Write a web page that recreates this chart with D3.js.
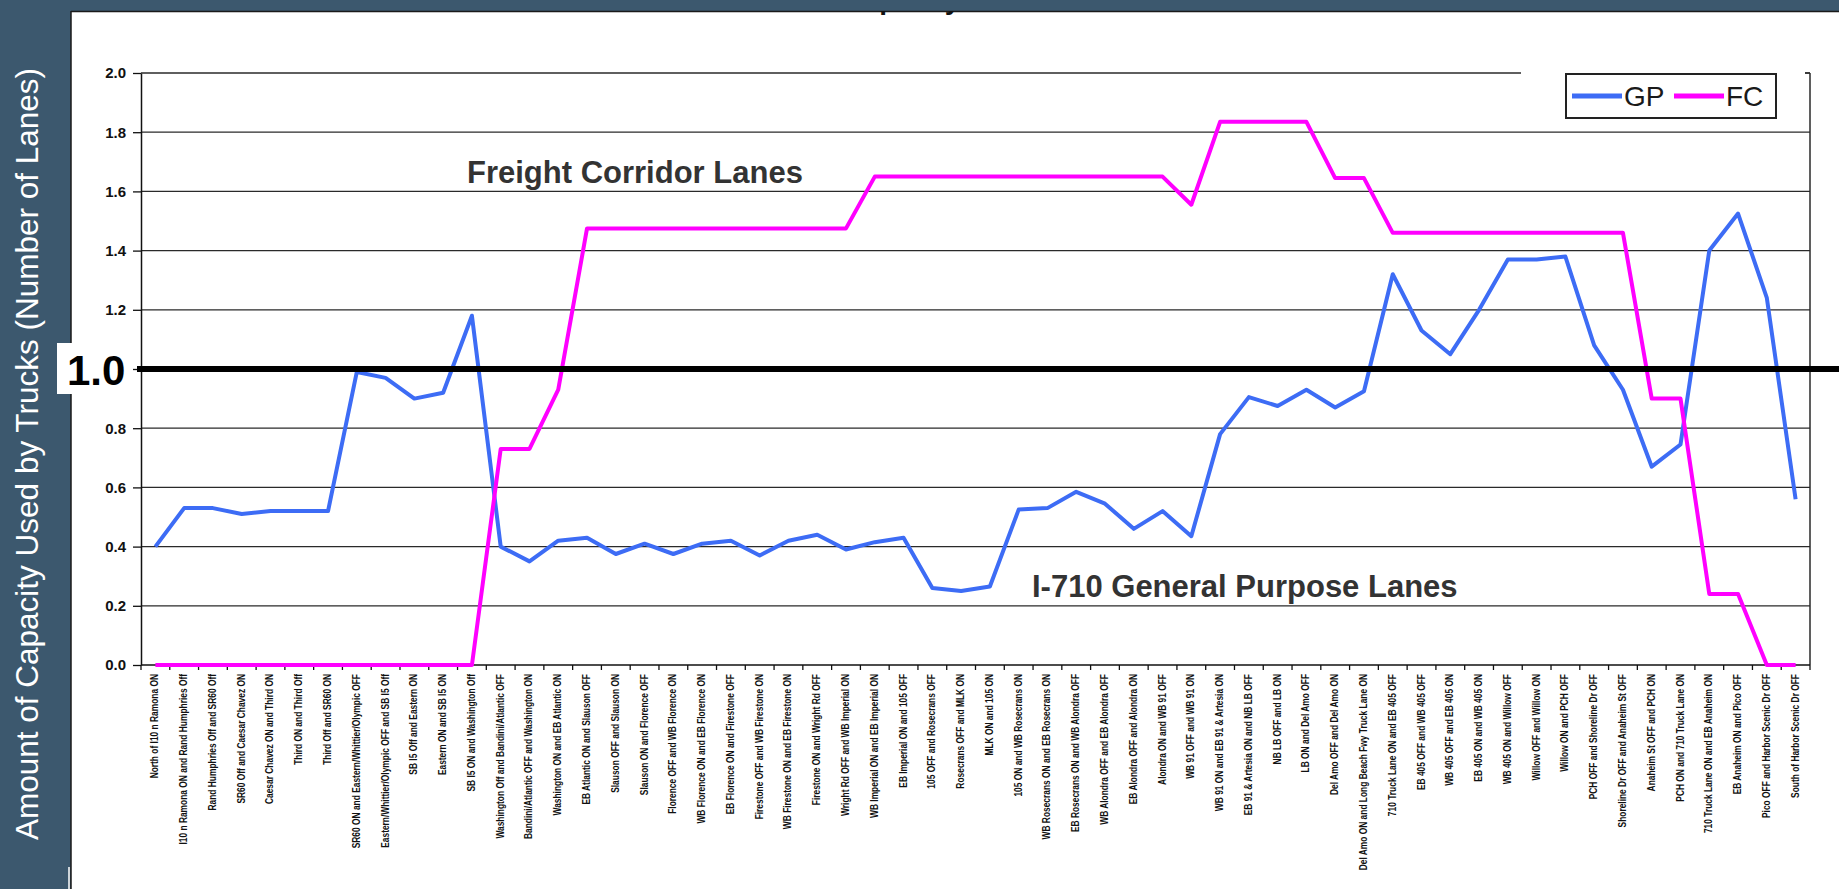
<!DOCTYPE html>
<html>
<head>
<meta charset="utf-8">
<script src="https://cdn.jsdelivr.net/npm/d3@7"></script>
<style>
  html, body { margin: 0; padding: 0; background: #3c586e; }
  svg { display: block; font-family: "Liberation Sans", Arial, sans-serif; }
</style>
</head>
<body>
<svg id="chart" width="1839" height="889"></svg>
<script>
// ---- Data ----
const categories = [
  "North of I10 n Ramona ON",
  "I10 n Ramona ON and Rand Humphries Off",
  "Rand Humphries Off and SR60 Off",
  "SR60 Off and Caesar Chavez ON",
  "Caesar Chavez ON and Third ON",
  "Third ON and Third Off",
  "Third Off and SR60 ON",
  "SR60 ON and Eastern/Whittier/Olympic OFF",
  "Eastern/Whittier/Olympic OFF and SB I5 Off",
  "SB I5 Off and Eastern ON",
  "Eastern ON and SB I5 ON",
  "SB I5 ON and Washington Off",
  "Washington Off and Bandini/Atlantic OFF",
  "Bandini/Atlantic OFF and Washington ON",
  "Washington ON and EB Atlantic ON",
  "EB Atlantic ON and Slauson OFF",
  "Slauson OFF and Slauson ON",
  "Slauson ON and Florence OFF",
  "Florence OFF and WB Florence ON",
  "WB Florence ON and EB Florence ON",
  "EB Florence ON and Firestone OFF",
  "Firestone OFF and WB Firestone ON",
  "WB Firestone ON and EB Firestone ON",
  "Firestone ON and Wright Rd OFF",
  "Wright Rd OFF and WB Imperial ON",
  "WB Imperial ON and EB Imperial ON",
  "EB Imperial ON and 105 OFF",
  "105 OFF and Rosecrans OFF",
  "Rosecrans OFF and MLK ON",
  "MLK ON and 105 ON",
  "105 ON and WB Rosecrans ON",
  "WB Rosecrans ON and EB Rosecrans ON",
  "EB Rosecrans ON and WB Alondra OFF",
  "WB Alondra OFF and EB Alondra OFF",
  "EB Alondra OFF and Alondra ON",
  "Alondra ON and WB 91 OFF",
  "WB 91 OFF and WB 91 ON",
  "WB 91 ON and EB 91 & Artesia ON",
  "EB 91 & Artesia ON and NB LB OFF",
  "NB LB OFF and LB ON",
  "LB ON and Del Amo OFF",
  "Del Amo OFF and Del Amo ON",
  "Del Amo ON and Long Beach Fwy Truck Lane ON",
  "710 Truck Lane ON and EB 405 OFF",
  "EB 405 OFF and WB 405 OFF",
  "WB 405 OFF and EB 405 ON",
  "EB 405 ON and WB 405 ON",
  "WB 405 ON and Willow OFF",
  "Willow OFF and Willow ON",
  "Willow ON and PCH OFF",
  "PCH OFF and Shoreline Dr OFF",
  "Shoreline Dr OFF and Anaheim St OFF",
  "Anaheim St OFF and PCH ON",
  "PCH ON and 710 Truck Lane ON",
  "710 Truck Lane ON and EB Anaheim ON",
  "EB Anaheim ON and Pico OFF",
  "Pico OFF and Harbor Scenic Dr OFF",
  "South of Harbor Scenic Dr OFF"
];

const gpValues = [
  0.40, 0.53, 0.53, 0.51, 0.52, 0.52, 0.52, 0.99, 0.97, 0.90,
  0.92, 1.18, 0.40, 0.35, 0.42, 0.43, 0.375, 0.41, 0.375, 0.41,
  0.42, 0.37, 0.42, 0.44, 0.39, 0.415, 0.43, 0.26, 0.25, 0.265,
  0.525, 0.53, 0.585, 0.545, 0.46, 0.52, 0.435, 0.78, 0.905, 0.875,
  0.93, 0.87, 0.925, 1.32, 1.13, 1.05, 1.20, 1.37, 1.37, 1.38,
  1.08, 0.93, 0.67, 0.745, 1.40, 1.525, 1.24, 0.56
];

const fcValues = [
  0, 0, 0, 0, 0, 0, 0, 0, 0, 0,
  0, 0, 0.73, 0.73, 0.93, 1.475, 1.475, 1.475, 1.475, 1.475,
  1.475, 1.475, 1.475, 1.475, 1.475, 1.65, 1.65, 1.65, 1.65, 1.65,
  1.65, 1.65, 1.65, 1.65, 1.65, 1.65, 1.555, 1.835, 1.835, 1.835,
  1.835, 1.645, 1.645, 1.46, 1.46, 1.46, 1.46, 1.46, 1.46, 1.46,
  1.46, 1.46, 0.90, 0.90, 0.24, 0.24, 0, 0
];

const yTicks = [0, 0.2, 0.4, 0.6, 0.8, 1.0, 1.2, 1.4, 1.6, 1.8, 2.0];
const seriesNames = ["GP", "FC"];
const seriesColors = ["#3d6cf5", "#ff00ff"];

// ---- Layout ----
const W = 1839, H = 889;
const plot = { left: 141, right: 1810, top: 73, bottom: 665 };

const svg = d3.select("#chart");

svg.append("rect").attr("width", W).attr("height", H).attr("fill", "#3c586e");

// white panel
svg.append("defs").append("clipPath").attr("id", "panelClip")
  .append("rect").attr("x", 71).attr("y", 11).attr("width", W - 71).attr("height", H - 11);
svg.append("rect").attr("x", 71).attr("y", 11).attr("width", W - 71).attr("height", H - 11).attr("fill", "#fff");
svg.append("line").attr("x1", 71).attr("x2", W).attr("y1", 11.5).attr("y2", 11.5).attr("stroke", "#1a1a1a").attr("stroke-width", 1.5);
svg.append("line").attr("x1", 71).attr("x2", 71).attr("y1", 11).attr("y2", H).attr("stroke", "#1a1a1a").attr("stroke-width", 1.5);
svg.append("line").attr("x1", 69).attr("x2", 69).attr("y1", 867).attr("y2", H).attr("stroke", "#fff").attr("stroke-width", 1.5);

// clipped title (only descenders show)
svg.append("text")
  .attr("clip-path", "url(#panelClip)")
  .attr("x", 761).attr("y", 9)
  .attr("font-size", 28).attr("font-weight", "bold").attr("fill", "#111")
  .text("Truck Capacity Used");

// y title
svg.append("text")
  .attr("transform", "translate(38,454) rotate(-90)")
  .attr("text-anchor", "middle")
  .attr("font-size", 31.5).attr("fill", "#fff")
  .text("Amount of Capacity Used by Trucks (Number of Lanes)");

// ---- Scales ----
const x = d3.scaleBand().domain(categories).range([plot.left, plot.right]);
const y = d3.scaleLinear().domain([0, 2]).range([plot.bottom, plot.top]);
const cx = (i) => x(categories[i]) + x.bandwidth() / 2;

// gridlines
svg.append("g").selectAll("line")
  .data(yTicks.filter((d) => d > 0))
  .join("line")
  .attr("x1", plot.left).attr("x2", plot.right)
  .attr("y1", (d) => y(d)).attr("y2", (d) => y(d))
  .attr("stroke", "#2a2a2a").attr("stroke-width", 1.3);

// right border
svg.append("line").attr("x1", plot.right).attr("x2", plot.right)
  .attr("y1", plot.top).attr("y2", plot.bottom)
  .attr("stroke", "#2a2a2a").attr("stroke-width", 1.5);

// y axis (the 1.0 label sits under the big 1.0 box, so it is left out)
const yAxis = svg.append("g")
  .attr("transform", `translate(${plot.left},0)`)
  .call(d3.axisLeft(y).tickValues(yTicks)
    .tickFormat((d) => (d === 1 ? "" : d3.format(".1f")(d)))
    .tickSize(8).tickSizeOuter(0));
yAxis.select(".domain").attr("stroke", "#111").attr("stroke-width", 1.5);
yAxis.selectAll(".tick line").attr("stroke", "#111").attr("stroke-width", 1.3);
yAxis.selectAll(".tick text")
  .attr("font-family", "'Liberation Sans', Arial, sans-serif")
  .attr("font-size", 15).attr("font-weight", "bold").attr("fill", "#111")
  .attr("x", -15);

// x axis line + ticks at band boundaries
svg.append("line").attr("x1", plot.left).attr("x2", plot.right)
  .attr("y1", plot.bottom).attr("y2", plot.bottom)
  .attr("stroke", "#111").attr("stroke-width", 1.5);
svg.append("g").selectAll("line")
  .data(categories.concat([null]))
  .join("line")
  .attr("x1", (d) => (d === null ? plot.right : x(d)))
  .attr("x2", (d) => (d === null ? plot.right : x(d)))
  .attr("y1", plot.bottom).attr("y2", plot.bottom + 5)
  .attr("stroke", "#111").attr("stroke-width", 1.3);

// x labels (condensed look)
svg.append("g").selectAll("text")
  .data(categories)
  .join("text")
  .attr("transform", (d, i) => `translate(${cx(i) + 3},674) rotate(-90) scale(0.84,1)`)
  .attr("text-anchor", "end")
  .attr("font-size", 10).attr("font-weight", "bold").attr("fill", "#111")
  .text((d) => d);

// ---- Series ----
const line = d3.line().x((d, i) => cx(i)).y((d) => y(d));
[gpValues, fcValues].forEach((vals, k) => {
  svg.append("path")
    .datum(vals)
    .attr("d", line)
    .attr("fill", "none")
    .attr("stroke", seriesColors[k])
    .attr("stroke-width", 4)
    .attr("stroke-linejoin", "round");
});

// annotations
svg.append("text").attr("x", 467).attr("y", 183)
  .attr("font-size", 31).attr("font-weight", "bold").attr("fill", "#333")
  .text("Freight Corridor Lanes");
svg.append("text").attr("x", 1032).attr("y", 597)
  .attr("font-size", 31).attr("font-weight", "bold").attr("fill", "#333")
  .text("I-710 General Purpose Lanes");

// ---- Legend ----
svg.append("rect").attr("x", 1521).attr("y", 62).attr("width", 284).attr("height", 60).attr("fill", "#fff");
svg.append("line").attr("x1", 1805).attr("x2", plot.right).attr("y1", plot.top).attr("y2", plot.top)
  .attr("stroke", "#2a2a2a").attr("stroke-width", 1.3);
svg.append("rect").attr("x", 1566).attr("y", 74).attr("width", 210).attr("height", 44)
  .attr("fill", "#fff").attr("stroke", "#222").attr("stroke-width", 2);
const legend = svg.append("g").selectAll("g")
  .data(seriesNames)
  .join("g")
  .attr("transform", (d, i) => `translate(${1572 + i * 102},0)`);
legend.append("line")
  .attr("x1", 0).attr("x2", 50).attr("y1", 96).attr("y2", 96)
  .attr("stroke", (d, i) => seriesColors[i]).attr("stroke-width", 5);
legend.append("text")
  .attr("x", 52).attr("y", 106)
  .attr("font-size", 28).attr("fill", "#1a1a1a")
  .text((d) => d);

// ---- 1.0 reference line ----
svg.append("line").attr("x1", 137).attr("x2", W).attr("y1", y(1)).attr("y2", y(1))
  .attr("stroke", "#000").attr("stroke-width", 6);
svg.append("rect").attr("x", 57).attr("y", 343).attr("width", 68).attr("height", 51).attr("fill", "#fff");
svg.append("text").attr("x", 67).attr("y", 385)
  .attr("font-size", 42).attr("font-weight", "bold").attr("fill", "#000")
  .text("1.0");
</script>
</body>
</html>
